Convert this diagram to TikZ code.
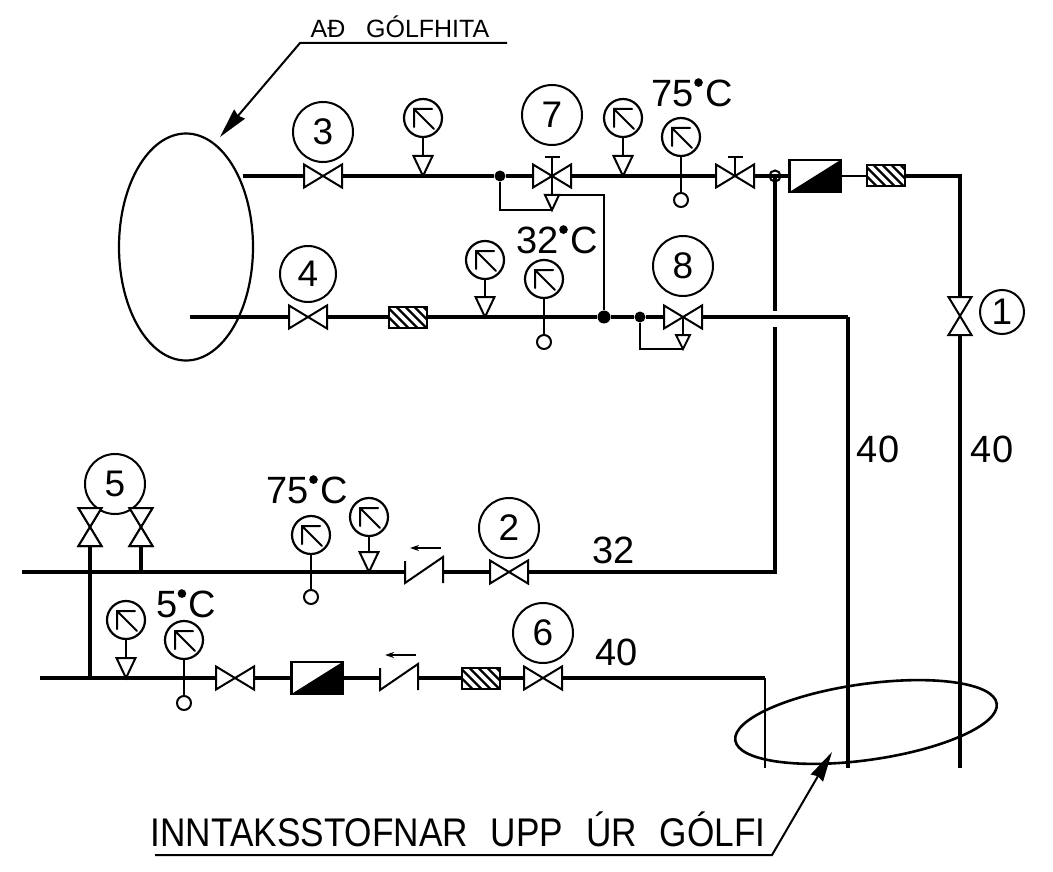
\documentclass[tikz,border=0pt]{standalone}
\usepackage{fontspec}
\setmainfont{Liberation Sans}
\usetikzlibrary{calc,arrows.meta,shapes.geometric}
% solid degree mark as the drawing prints it: a small degree sign with a dot over it
\newcommand{\degdot}{\rlap{\hspace{0.012em}\raisebox{0.62em}{\smash{\tikz[baseline=0pt]\fill (0,0) circle (4.3pt);}}}\raisebox{0.27em}{\scalebox{0.62}{°}}\hspace{0.05em}}
\tikzset{
  pipe/.style={line width=3.3pt,black},
  heavy/.style={line width=4.4pt,black},
  thin line/.style={line width=2pt,black},
  sym/.style={line width=2pt,black,fill=white,line join=miter},
  anchorbox/.style={rectangle,inner sep=0pt,outer sep=0pt},
  valvebox/.style={anchorbox,minimum width=38pt,minimum height=23pt},
  vvalvebox/.style={anchorbox,minimum width=23pt,minimum height=38pt},
  hxbox/.style={anchorbox,draw,line width=2.4pt,fill=white,minimum width=51pt,minimum height=32pt},
  strainerbox/.style={anchorbox,draw,line width=2pt,fill=white,minimum width=38pt,minimum height=21pt,
    path picture={\foreach \i in {-30,-21,...,40}{\draw[line width=2.3pt]
      ([xshift=\i pt]path picture bounding box.north) -- ++(24pt,-24pt);}}},
  checkbox/.style={anchorbox,minimum width=38pt,minimum height=26pt},
  bubble/.style={circle,draw,line width=2pt,fill=none,inner sep=0pt,minimum size=60pt,font=\fontsize{37}{37}\selectfont},
  dial/.style={circle,draw,line width=2.2pt,fill=white,inner sep=0pt,minimum size=38pt},
  bulb/.style={circle,draw,line width=2pt,fill=white,inner sep=0pt,minimum size=14pt},
  blackdot/.style={circle,fill=black,inner sep=0pt,minimum size=11pt},
  ringdot/.style={circle,draw,line width=2pt,fill=none,inner sep=0pt,minimum size=11pt},
  numtext/.style={inner sep=0pt,font=\fontsize{38}{38}\selectfont},
  leader/.style={line width=2pt,black},
  tip/.style={-{Stealth[length=30pt,width=14pt,inset=2pt]}},
}
% valve: bow-tie inside a named box
\newcommand{\valve}[3]{\node[valvebox] (#1) at (#2,#3) {};
  \draw[sym] (#1.north west) -- (#1.south west) -- (#1.north east) -- (#1.south east) -- cycle;}
\newcommand{\vvalve}[3]{\node[vvalvebox] (#1) at (#2,#3) {};
  \draw[sym] (#1.north west) -- (#1.north east) -- (#1.south west) -- (#1.south east) -- cycle;}
\newcommand{\needle}[1]{\draw[line width=2pt,line cap=round,line join=miter]
   ($(#1.center)+(-9,9)$) -- ($(#1.center)+(-9,-9)$) -- ($(#1.center)+(9,-9)$)
   ($(#1.center)+(-9,-9)$) -- ($(#1.center)+(11,11)$);}
% pressure gauge: name, x, dial y, pipe y
\newcommand{\pgauge}[4]{\node[dial] (#1) at (#2,#3) {}; \needle{#1}
  \coordinate (#1t) at (#2,#4-20);
  \draw[thin line] (#1.south) -- (#1t);
  \draw[sym] ($(#1t)+(-9.5,0)$) -- ($(#1t)+(9.5,0)$) -- (#2,#4) -- cycle;}
% thermometer: name, x, dial y, bulb y
\newcommand{\tgauge}[4]{\node[dial] (#1) at (#2,#3) {}; \needle{#1}
  \node[bulb] (#1b) at (#2,#4) {};
  \draw[thin line] (#1.south) -- (#1b.north);}
\newcommand{\chkvalve}[3]{\node[checkbox] (#1) at (#2,#3) {};
  \draw[line width=2pt] ($(#1.west)+(0,-9)$) -- (#1.south west) -- (#1.north east) -- (#1.south east);
  \draw[-{Stealth[length=9pt,width=6pt]},line width=1.8pt] ($(#1.north east)+(-2,-9)$) -- ($(#1.north west)+(5,-9)$);}
\newcommand{\hx}[3]{\node[hxbox] (#1) at (#2,#3) {};
  \fill (#1.south west) -- (#1.north east) -- (#1.south east) -- cycle;}
\begin{document}
\begin{tikzpicture}[x=1pt,y=-1pt]
\useasboundingbox (0,0) rectangle (1053,872);
\fill[white] (0,0) rectangle (1053,872);
% ---------- upper loop symbols
\valve{vthree}{323}{176}
\valve{vseven}{552}{176}
\valve{vtop}{735}{176}
\hx{hxtop}{815}{176}
\node[strainerbox] (strtop) at (886,176) {};
\vvalve{vone}{960}{316}
\valve{vfour}{308}{317}
\node[strainerbox] (strmid) at (408,317) {};
\valve{veight}{683}{317}
\node[blackdot] (dtee) at (500,176) {};
\node[ringdot] (dring) at (775,176) {};
\node[blackdot,minimum size=13pt] (dmid) at (604,317) {};
\node[blackdot] (dmid2) at (640,317) {};
% lower symbols
\vvalve{vfivea}{90}{527}
\vvalve{vfiveb}{141}{527}
\chkvalve{ctop}{424}{570}
\valve{vtwo}{509}{572}
\valve{vlow}{235}{678}
\hx{hxlow}{317}{678}
\chkvalve{clow}{399}{677}
\node[strainerbox] (strlow) at (481,678) {};
\valve{vsix}{543}{678}
% corners and free ends
\coordinate (ctopr) at (960,176);
\coordinate (oneend) at (960,768);
\coordinate (midstart) at (190,317);
\coordinate (midr) at (848,317);
\coordinate (midend) at (848,768);
\coordinate (topstart) at (243,176);
\coordinate (rgap1) at (775,311);
\coordinate (rgap2) at (775,327);
\coordinate (rcorner) at (775,572);
\coordinate (lowleft) at (22,572);
\coordinate (botleft) at (40,678);
\coordinate (botcorner) at (765,678);
\coordinate (botend) at (765,768);
\coordinate (vleftbot) at (90,678);
\coordinate (vrightbot) at (141,572);
% pipes
\draw[pipe] (topstart) -- (vthree.west) (vthree.east) -- (dtee) -- (vseven.west)
  (vseven.east) -- (vtop.west) (vtop.east) -- (dring.center) -- (hxtop.west);
\draw[line width=2.6pt] (hxtop.east) -- (strtop.west);
\draw[pipe] (strtop.east) -- (ctopr) -- (vone.north);
\draw[pipe] (vone.south) -- (oneend);
\draw[pipe] (midstart) -- (vfour.west) (vfour.east) -- (strmid.west);
\draw[pipe] (strmid.east) -- (dmid) -- (dmid2) -- (veight.west);
\draw[pipe] (veight.east) -- (midr);
\draw[heavy] (midr) -- (midend);
\draw[pipe] (dring.center) -- (rgap1) (rgap2) -- (rcorner) -- (vtwo.east) (vtwo.west) -- (ctop.east |- rcorner)
  (ctop.west |- rcorner) -- (lowleft);
\draw[pipe] (vfivea.south) -- (vleftbot);
\draw[pipe] (vfiveb.south) -- (vrightbot);
\draw[pipe] (botleft) -- (vlow.west) (vlow.east) -- (hxlow.west) (hxlow.east) -- (clow.west |- botleft)
  (clow.east |- botleft) -- (strlow.west) (strlow.east) -- (vsix.west) (vsix.east) -- (botcorner);
\draw[line width=2.6pt] (botcorner) -- (botend);
% thin control lines, valve 7
\coordinate (tseven) at (552,157);
\coordinate (vdrop) at (500,210);
\coordinate (apexseven) at (552,210);
\coordinate (lineseven) at (552,195);
\coordinate (corner) at (604,195);
\draw[thin line] (dtee) -- (vdrop) -- (apexseven);
\draw[thin line] (tseven) -- (lineseven) -- (corner) -- (dmid);
\draw[thin line] ($(tseven)+(-7.5,0)$) -- ($(tseven)+(7.5,0)$);
\draw[sym] (545,195) -- (559,195) -- (apexseven) -- cycle;
% valve T-handle
\coordinate (ttop) at (735,157);
\draw[thin line] (ttop) -- (vtop.center) ($(ttop)+(-7.5,0)$) -- ($(ttop)+(7.5,0)$);
% thin control line, valve 8
\coordinate (veightbot) at (640,349);
\coordinate (apexeight) at (683,349);
\draw[thin line] (dmid2) -- (veightbot) -- (apexeight);
\draw[thin line] (veight.center) -- (683,335);
\draw[sym] (676,335) -- (690,335) -- (apexeight) -- cycle;
% gauges
\pgauge{gtopa}{423}{118}{176}
\pgauge{gtopb}{623}{118}{176}
\tgauge{gtopc}{681}{137}{200}
\pgauge{gmida}{485}{260}{317}
\tgauge{gmidb}{544}{279}{342}
\pgauge{glowa}{369}{517}{572}
\tgauge{glowb}{311}{535}{597}
\pgauge{gbota}{126}{620}{678}
\tgauge{gbotb}{184}{640}{703}
% numbered bubbles
\node[bubble] (nthree) at (323,132) {3};
\node[bubble] (nseven) at (552,115) {7};
\node[bubble] (neight) at (683,266) {8};
\node[bubble,minimum size=56pt] (nfour) at (308,274) {4};
\node[bubble,minimum size=44pt] (none) at (1002,312) {1};
\node[bubble] (nfive) at (115,484) {5};
\node[bubble] (ntwo) at (509,528) {2};
\node[bubble] (nsix) at (543,633) {6};
\draw[sym] (vfivea.north west) -- (vfivea.north east) -- (vfivea.south west) -- (vfivea.south east) -- cycle;
\draw[sym] (vfiveb.north west) -- (vfiveb.north east) -- (vfiveb.south west) -- (vfiveb.south east) -- cycle;
% value labels
\node[numtext] (t75a) at (692,93) {75\degdot C};
\node[numtext] (t32) at (557,240) {32\degdot C};
\node[numtext] (t75b) at (307,490) {75\degdot C};
\node[numtext] (t5) at (186,604) {5\degdot C};
\node[numtext] (t40a) at (878,449) {40};
\node[numtext] (t40b) at (992,449) {40};
\node[numtext] (t32b) at (614,550) {32};
\node[numtext] (t40c) at (617,652) {40};
% enclosing ellipses
\node[ellipse,draw,line width=2.2pt,minimum width=134pt,minimum height=227pt,inner sep=0pt,fill=none] (eleft) at (186,247) {};
\draw[line width=2.6pt] (866,722) ellipse [x radius=132,y radius=38,rotate=8];
\coordinate (eloop) at (832,752);
% captions and leaders
\node[inner sep=0pt,font=\fontsize{25}{25}\selectfont] (capa) at (400,27) {AÐ\hspace{0.55em} GÓLFHITA};
\node[inner sep=0pt,font=\fontsize{40}{40}\selectfont] (capb) at (458,829) {\scalebox{0.88}[1]{INNTAKSSTOFNAR\hspace{0.37em} UPP\hspace{0.37em} ÚR\hspace{0.37em} GÓLFI}};
\coordinate (la) at (507,43);
\coordinate (lb) at (300,43);
\coordinate (lc) at (220,137);
\draw[leader,tip] (la) -- (lb) -- (lc);
\coordinate (ma) at (155,855);
\coordinate (mb) at (772,855);
\draw[leader,tip] (ma) -- (mb) -- (eloop);
\end{tikzpicture}
\end{document}
